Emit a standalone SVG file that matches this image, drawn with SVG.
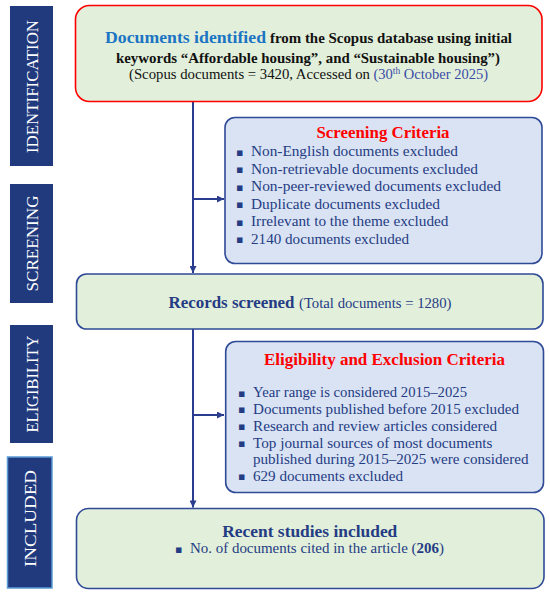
<svg xmlns="http://www.w3.org/2000/svg" width="550" height="595" viewBox="0 0 550 595">
<style>
.bar{fill:#213A7E}
.bt{fill:#FFFFFF;font-family:"Liberation Serif",serif;font-size:16px;text-anchor:middle}
.green{fill:#E2EFDA}
.blue{fill:#DAE3F3;stroke:#2F4A96;stroke-width:1.6}
.gn{stroke:#2F4A96;stroke-width:1.6}
.t{font-family:"Liberation Serif",serif;fill:#243C84}
.b{font-weight:bold}
.it{font-size:15px}
.red{fill:#FF0000;font-weight:bold;font-size:17px}
.bul{font-family:"DejaVu Sans",sans-serif;font-size:11px;fill:#243C84}
.con{stroke:#2B3D8F;stroke-width:2;fill:none}
.top{font-family:"Liberation Serif",serif;fill:#111111}
</style>
<defs>
<marker id="ah" viewBox="0 0 10 10" refX="10" refY="5" markerWidth="8" markerHeight="7" markerUnits="userSpaceOnUse" orient="auto">
<path d="M0,0 L10,5 L0,10 z" fill="#2B3D8F"/>
</marker>
</defs>

<g id="stage-identification">
<rect class="bar" x="10" y="6" width="43" height="160"/>
<text class="bt" transform="translate(37.5,86.5) rotate(-90)" textLength="133" lengthAdjust="spacingAndGlyphs">IDENTIFICATION</text>
</g>
<g id="stage-screening">
<rect class="bar" x="10" y="184" width="43" height="119"/>
<text class="bt" transform="translate(37.5,243.5) rotate(-90)" textLength="96" lengthAdjust="spacingAndGlyphs">SCREENING</text>
</g>
<g id="stage-eligibility">
<rect class="bar" x="10" y="325" width="43" height="118"/>
<text class="bt" transform="translate(37.5,384) rotate(-90)" textLength="97" lengthAdjust="spacingAndGlyphs">ELIGIBILITY</text>
</g>
<g id="stage-included">
<rect class="bar" x="7.5" y="457" width="44.5" height="131" stroke="#5B9BD5" stroke-width="1.5"/>
<text class="bt" transform="translate(36,518.5) rotate(-90)" textLength="97" lengthAdjust="spacingAndGlyphs">INCLUDED</text>
</g>

<g id="connectors">
<path class="con" d="M193,101 V273" marker-end="url(#ah)"/>
<path class="con" d="M193,199 H224" marker-end="url(#ah)"/>
<path class="con" d="M193,329 V507.5" marker-end="url(#ah)"/>
<path class="con" d="M193,415 H224" marker-end="url(#ah)"/>
</g>

<g id="identified">
<rect class="green" x="75.5" y="5.5" width="466.5" height="96" rx="14" stroke="#FF0000" stroke-width="1.6"/>
<text x="105" y="43" font-family="Liberation Serif, serif" font-weight="bold" font-size="17.5" fill="#1B75C4" textLength="161" lengthAdjust="spacingAndGlyphs">Documents identified</text>
<text class="top" x="270" y="43" font-weight="bold" font-size="14.5" textLength="242" lengthAdjust="spacingAndGlyphs">from the Scopus database using initial</text>
<text class="top" x="116" y="62.5" font-weight="bold" font-size="14.5" textLength="384" lengthAdjust="spacingAndGlyphs">keywords “Affordable housing”, and “Sustainable housing”)</text>
<text class="top" x="129" y="79" font-size="14.5" textLength="241" lengthAdjust="spacingAndGlyphs">(Scopus documents = 3420, Accessed on</text>
<text x="373.5" y="79" font-family="Liberation Serif, serif" font-size="14.5" fill="#3A4DA6">(30<tspan font-size="9.5" dy="-5">th</tspan><tspan dy="5"> October 2025)</tspan></text>
</g>

<g id="screening-criteria">
<rect class="blue" x="225" y="117.5" width="317" height="146" rx="10"/>
<text class="t red" x="316.5" y="138" textLength="133" lengthAdjust="spacingAndGlyphs">Screening Criteria</text>
<text class="bul" x="236" y="155.5">▪</text>
<text class="bul" x="236" y="173">▪</text>
<text class="bul" x="236" y="190.5">▪</text>
<text class="bul" x="236" y="208">▪</text>
<text class="bul" x="236" y="225.5">▪</text>
<text class="bul" x="236" y="243">▪</text>
<text class="t it" x="251" y="156" textLength="207" lengthAdjust="spacingAndGlyphs">Non-English documents excluded</text>
<text class="t it" x="251" y="173.5" textLength="227" lengthAdjust="spacingAndGlyphs">Non-retrievable documents excluded</text>
<text class="t it" x="251" y="191" textLength="250" lengthAdjust="spacingAndGlyphs">Non-peer-reviewed documents excluded</text>
<text class="t it" x="251" y="208.5" textLength="189" lengthAdjust="spacingAndGlyphs">Duplicate documents excluded</text>
<text class="t it" x="251" y="226" textLength="197.5" lengthAdjust="spacingAndGlyphs">Irrelevant to the theme excluded</text>
<text class="t it" x="251" y="243.5" textLength="158" lengthAdjust="spacingAndGlyphs">2140 documents excluded</text>
</g>

<g id="records-screened">
<rect class="green gn" x="76.5" y="274" width="466.5" height="55" rx="10"/>
<text class="t b" x="168.5" y="307.5" font-size="17" textLength="126" lengthAdjust="spacingAndGlyphs">Records screened</text>
<text class="t" x="299" y="307.5" font-size="15" textLength="152.5" lengthAdjust="spacingAndGlyphs">(Total documents = 1280)</text>
</g>

<g id="eligibility-criteria">
<rect class="blue" x="225.7" y="341.5" width="317.8" height="151" rx="10"/>
<text class="t red" x="264" y="364.5" textLength="241" lengthAdjust="spacingAndGlyphs">Eligibility and Exclusion Criteria</text>
<text class="bul" x="238" y="396.5">▪</text>
<text class="bul" x="238" y="413">▪</text>
<text class="bul" x="238" y="430">▪</text>
<text class="bul" x="238" y="447">▪</text>
<text class="bul" x="238" y="480">▪</text>
<text class="t it" x="253" y="397" textLength="214" lengthAdjust="spacingAndGlyphs">Year range is considered 2015–2025</text>
<text class="t it" x="253" y="413.5" textLength="266" lengthAdjust="spacingAndGlyphs">Documents published before 2015 excluded</text>
<text class="t it" x="253" y="430.5" textLength="244" lengthAdjust="spacingAndGlyphs">Research and review articles considered</text>
<text class="t it" x="253" y="447.5" textLength="239.5" lengthAdjust="spacingAndGlyphs">Top journal sources of most documents</text>
<text class="t it" x="253" y="464" textLength="275.5" lengthAdjust="spacingAndGlyphs">published during 2015–2025 were considered</text>
<text class="t it" x="253" y="480.5" textLength="150" lengthAdjust="spacingAndGlyphs">629 documents excluded</text>
</g>

<g id="studies-included">
<rect class="green gn" x="76.5" y="508.5" width="467.5" height="80" rx="12"/>
<text class="t b" x="222.3" y="536.7" font-size="17.5" textLength="175" lengthAdjust="spacingAndGlyphs">Recent studies included</text>
<text class="bul" x="175" y="552.5">▪</text>
<text class="t it" x="190" y="552.7" textLength="254" lengthAdjust="spacingAndGlyphs">No. of documents cited in the article (<tspan font-weight="bold">206</tspan>)</text>
</g>
</svg>
